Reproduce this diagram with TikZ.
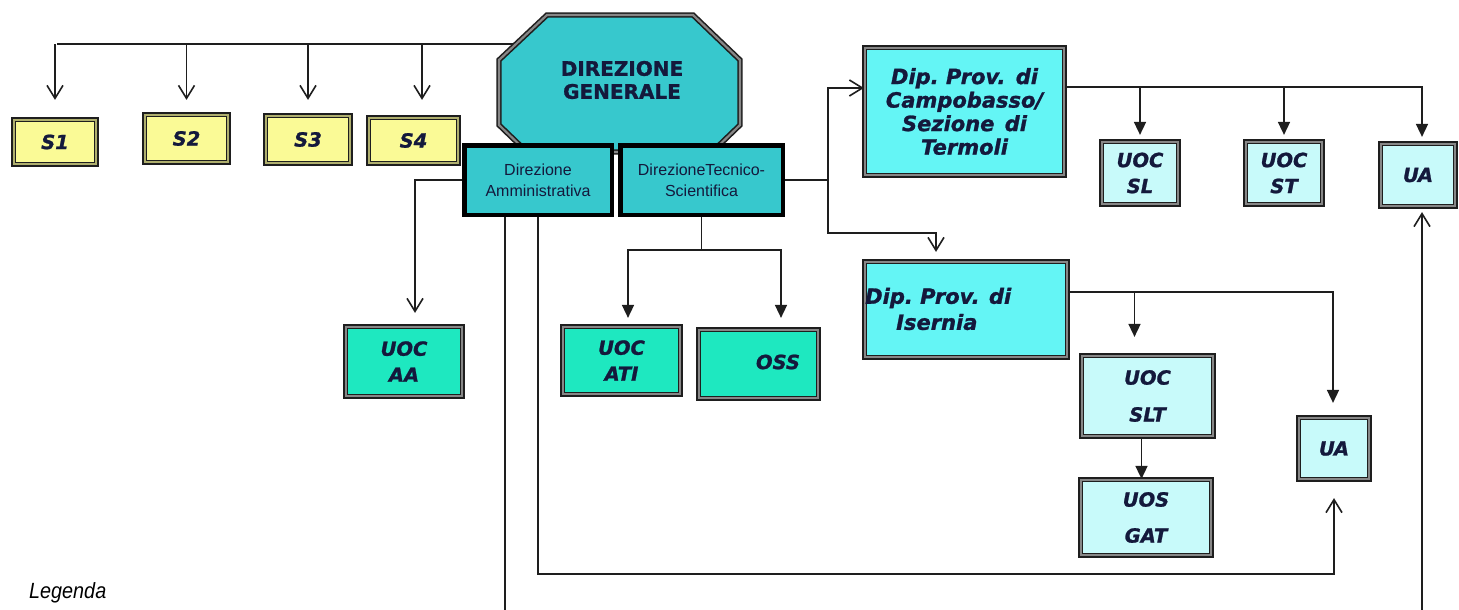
\documentclass[tikz,border=0pt]{standalone}
\usepackage{fontspec}
\usetikzlibrary{arrows.meta}
\newfontfamily\vfont[FakeBold=1.2]{DejaVu Sans}
\newfontfamily\afont{Liberation Sans}
\newfontfamily\nfont[FakeStretch=0.9]{Liberation Sans}
\definecolor{linec}{RGB}{30,30,30}
\definecolor{txtc}{RGB}{20,25,60}
\definecolor{yelf}{RGB}{250,250,150}
\definecolor{yelg}{RGB}{175,175,110}
\definecolor{tealf}{RGB}{55,200,205}
\definecolor{dipf}{RGB}{100,245,245}
\definecolor{grnf}{RGB}{30,232,192}
\definecolor{ltf}{RGB}{200,250,250}
\definecolor{gapc}{RGB}{135,135,135}
\pgfdeclarelayer{bg}
\pgfsetlayers{bg,main}
\frenchspacing
\begin{document}
\begin{tikzpicture}[x=1pt,y=-1pt,
 dbox/.style={draw=linec, double=gapc, double distance=2.2pt, line width=1.6pt, inner sep=0pt, text=txtc, align=center,
   font=\vfont\bfseries\itshape\fontsize{19.5}{26}\selectfont},
 ybox/.style={dbox, double=yelg, fill=yelf},
 gbox/.style={dbox, fill=grnf},
 lbox/.style={dbox, fill=ltf},
 pbox/.style={dbox, fill=dipf, font=\vfont\bfseries\itshape\fontsize{21}{23.5}\selectfont},
 tbox/.style={draw=black, line width=4.5pt, fill=tealf, inner sep=0pt, text=txtc, align=center,
   font=\afont\fontsize{16}{21}\selectfont},
 lab/.style={inner sep=0pt, text=txtc, font=\vfont\bfseries\itshape\fontsize{19.5}{26}\selectfont},
 conn/.style={draw=linec, line width=1.6pt},
 oarr/.style={conn, -{Straight Barb[length=13pt,width=16pt]}},
 farr/.style={conn, -{Triangle[length=13pt,width=12pt]}},
]
\useasboundingbox (0,0) rectangle (1459,610);

% S boxes
\node[ybox, minimum width=82.6pt, minimum height=44.6pt] (s1) at (55,142) {S1};
\node[ybox, minimum width=83.6pt, minimum height=47.6pt] (s2) at (186.5,138.5) {S2};
\node[ybox, minimum width=84.6pt, minimum height=47.6pt] (s3) at (308,139.5) {S3};
\node[ybox, minimum width=89.6pt, minimum height=45.6pt] (s4) at (413.5,140.5) {S4};

% octagon
\draw[draw=linec, double=gapc, double distance=2.2pt, line width=1.6pt, fill=tealf]
  (547,15) -- (693,15) -- (740,60) -- (740,125) -- (712,152) -- (527,152) -- (499,125) -- (499,60) -- cycle;
\node[inner sep=0pt, text=txtc, align=center, font=\vfont\bfseries\fontsize{20}{23}\selectfont] (dg) at (622,80) {DIREZIONE\\GENERALE};

% direzioni
\node[tbox, minimum width=147.5pt, minimum height=69.5pt] (da) at (538,180) {Direzione\\Amministrativa};
\node[tbox, minimum width=162.5pt, minimum height=69.5pt] (dt) at (701.5,180) {DirezioneTecnico-\\Scientifica};

% green units
\node[gbox, minimum width=116.6pt, minimum height=69.6pt] (aa) at (404,361.5) {UOC\\AA};
\node[gbox, minimum width=117.6pt, minimum height=67.6pt] (ati) at (621.5,360.5) {UOC\\ATI};
\node[gbox, minimum width=119.6pt, minimum height=68.6pt] (oss) at (758.5,364) {};
\node[lab] (osst) at (778,362) {OSS};

% departments
\node[pbox, minimum width=199.6pt, minimum height=127.6pt] (dc) at (964.5,111.5)
  {Dip. Prov.\ \hspace{3pt}di\\Campobasso/\\Sezione\ \hspace{3pt}di\\Termoli};
\node[pbox, minimum width=202.6pt, minimum height=95.6pt] (di) at (966,309.5) {};
\node[lab, font=\vfont\bfseries\itshape\fontsize{21}{23.5}\selectfont, anchor=west] (dit1) at (865,298) {Dip. Prov.\ \hspace{2pt}di};
\node[lab, font=\vfont\bfseries\itshape\fontsize{21}{23.5}\selectfont, anchor=west] (dit2) at (896,322) {Isernia};

% light units
\node[lbox, minimum width=76.6pt, minimum height=62.6pt] (sl) at (1140,173) {UOC\\SL};
\node[lbox, minimum width=76.6pt, minimum height=62.6pt] (st) at (1284,173) {UOC\\ST};
\node[lbox, minimum width=74.6pt, minimum height=62.6pt] (uat) at (1418,175) {UA};
\node[lbox, minimum width=131.6pt, minimum height=80.6pt, font=\vfont\bfseries\itshape\fontsize{19.5}{37}\selectfont] (slt) at (1147.5,396) {UOC\\SLT};
\node[lbox, minimum width=130.6pt, minimum height=75.6pt, font=\vfont\bfseries\itshape\fontsize{19.5}{36}\selectfont] (gat) at (1146,517.5) {UOS\\GAT};
\node[lbox, minimum width=70.6pt, minimum height=61.6pt] (ual) at (1334,448.5) {UA};

% legend
\node[inner sep=0pt, anchor=west, text=black, font=\nfont\itshape\fontsize{22}{26}\selectfont] (leg) at (29,593) {Legenda};

\begin{pgfonlayer}{bg}
\fill[white] (0,0) rectangle (1459,610);
% top distribution
\coordinate (tl) at (57,44);
\coordinate (octL) at (514,44);
\draw[conn] (tl) -- (octL);
\draw[oarr, shorten >=19pt] (s1.north |- tl) -- (s1.north);
\draw[oarr, shorten >=14pt] (s2.north |- tl) -- (s2.north);
\draw[oarr, shorten >=15pt] (s3.north |- tl) -- (s3.north);
\coordinate (s4t) at ([xshift=8.5pt]s4.north);
\draw[oarr, shorten >=17pt] (s4t |- tl) -- (s4t);
% amministrativa
\coordinate (aat) at ([xshift=11pt]aa.north);
\draw[oarr, shorten >=13pt] (da.west) -| (aat);
\coordinate (b1) at (505,610);
\draw[conn] (da.south -| b1) -- (b1);
\coordinate (bl) at (900,574);
\draw[oarr, shorten >=18pt] (da.south) |- (bl) -| (ual.south);
% tecnico-scientifica
\coordinate (jt) at (701.5,250);
\draw[conn] (dt.south) -- (jt);
\coordinate (atit) at ([xshift=6.5pt]ati.north);
\coordinate (osstop) at ([xshift=22.5pt]oss.north);
\draw[farr, shorten >=8pt] (jt) -| (atit);
\draw[farr, shorten >=11pt] (jt) -| (osstop);
\coordinate (jr) at (828,180);
\draw[conn] (dt.east) -- (jr);
\coordinate (dcw) at ([yshift=23.5pt]dc.west);
\draw[oarr] (jr) |- (dcw);
\coordinate (ditop) at ([xshift=-30pt]di.north);
\coordinate (jb) at (880,233);
\draw[oarr, shorten >=9pt] (jr) |- (jb) -| (ditop);
% campobasso
\coordinate (jc) at ([yshift=24.5pt]dc.east);
\coordinate (uatt) at ([xshift=4pt]uat.north);
\draw[farr, shorten >=6pt] (jc) -| (uatt);
\draw[farr, shorten >=6pt] (sl.north |- jc) -- (sl.north);
\draw[farr, shorten >=6pt] (st.north |- jc) -- (st.north);
% isernia
\coordinate (ji) at ([yshift=17.5pt]di.east);
\coordinate (ualt) at ([xshift=-1pt]ual.north);
\draw[farr, shorten >=14pt] (ji) -| (ualt);
\coordinate (sltt) at ([xshift=-13pt]slt.north);
\draw[farr, shorten >=18pt] (sltt |- ji) -- (sltt);
\coordinate (sltb) at ([xshift=-6pt]slt.south);
\draw[farr] (sltb) -- (sltb |- gat.north);
% long right line
\coordinate (b2) at (1422,610);
\draw[oarr, shorten >=5pt] (b2) -- (b2 |- uat.south);
\end{pgfonlayer}
\end{tikzpicture}
\end{document}
